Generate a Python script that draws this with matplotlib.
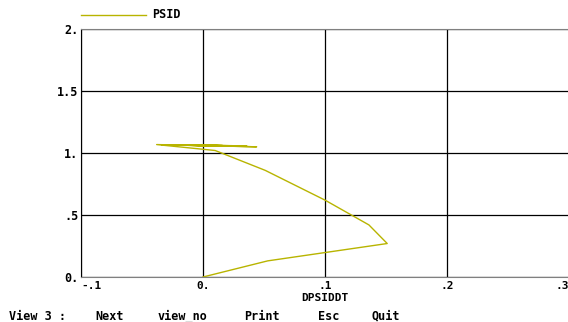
import matplotlib
matplotlib.use('Agg')
import matplotlib.pyplot as plt

# data: PSID against DPSIDDT (phase trajectory)
dpsiddt = [0.0, 0.053, 0.151, 0.136, 0.100, 0.051, 0.010, -0.038, 0.044,
           -0.034, 0.036, -0.028, 0.030, -0.020, 0.024, -0.012, 0.016, 0.002]
psid = [0.0, 0.13, 0.27, 0.42, 0.62, 0.86, 1.02, 1.068, 1.050,
        1.066, 1.056, 1.064, 1.058, 1.063, 1.059, 1.062, 1.060, 1.061]

x_ticks = [-0.1, 0.0, 0.1, 0.2, 0.3]
x_labels = ['-.1', '0.', '.1', '.2', '.3']
y_ticks = [0.0, 0.5, 1.0, 1.5, 2.0]
y_labels = ['0.', '.5', '1.', '1.5', '2.']

line_col = '#b8b400'
fnt = dict(family='DejaVu Sans Mono', weight='bold', size=8.5)
fnt_x = dict(family='DejaVu Sans Mono', weight='bold', size=8)

fig = plt.figure(figsize=(5.68, 3.22), dpi=100)
ax = fig.add_axes([81/568, 45/322, 488/568, 248/322])

ax.plot(dpsiddt, psid, color=line_col, lw=1.0, label='PSID')
ax.set_xlim(-0.1, 0.3)
ax.set_ylim(0, 2)

ax.set_xticks(x_ticks)
ax.set_xticklabels(x_labels, **fnt_x)
ax.set_yticks(y_ticks)
ax.set_yticklabels(y_labels, **fnt)
ax.xaxis.get_ticklabels()[0].set_ha('left')
ax.xaxis.get_ticklabels()[-1].set_ha('right')
ax.tick_params(axis='x', length=0, pad=3)
ax.tick_params(axis='y', length=0, pad=2)
ax.grid(True, color='black', lw=0.9)

ax.spines['top'].set_color('#808080')
ax.spines['bottom'].set_color('#808080')
ax.spines['right'].set_visible(False)
ax.spines['left'].set_color('black')

ax.set_xlabel('DPSIDDT', **fnt_x)
ax.xaxis.set_label_coords(0.5, -0.063)

# legend drawn by hand like the original screen
fig.add_artist(plt.Line2D([81/568, 146/568], [1 - 15/322, 1 - 15/322],
                          color=line_col, lw=1.0))
fig.text(152/568, 1 - 15/322, 'PSID', va='center', **fnt)

# menu bar at the bottom
menu = [('View 3 :', 9), ('Next', 95), ('view_no', 158), ('Print', 244),
        ('Esc', 318), ('Quit', 372)]
for txt, px in menu:
    fig.text(px/568, 1 - 316/322, txt, va='center', **fnt)

fig.savefig('out.png', dpi=100, facecolor='white')
